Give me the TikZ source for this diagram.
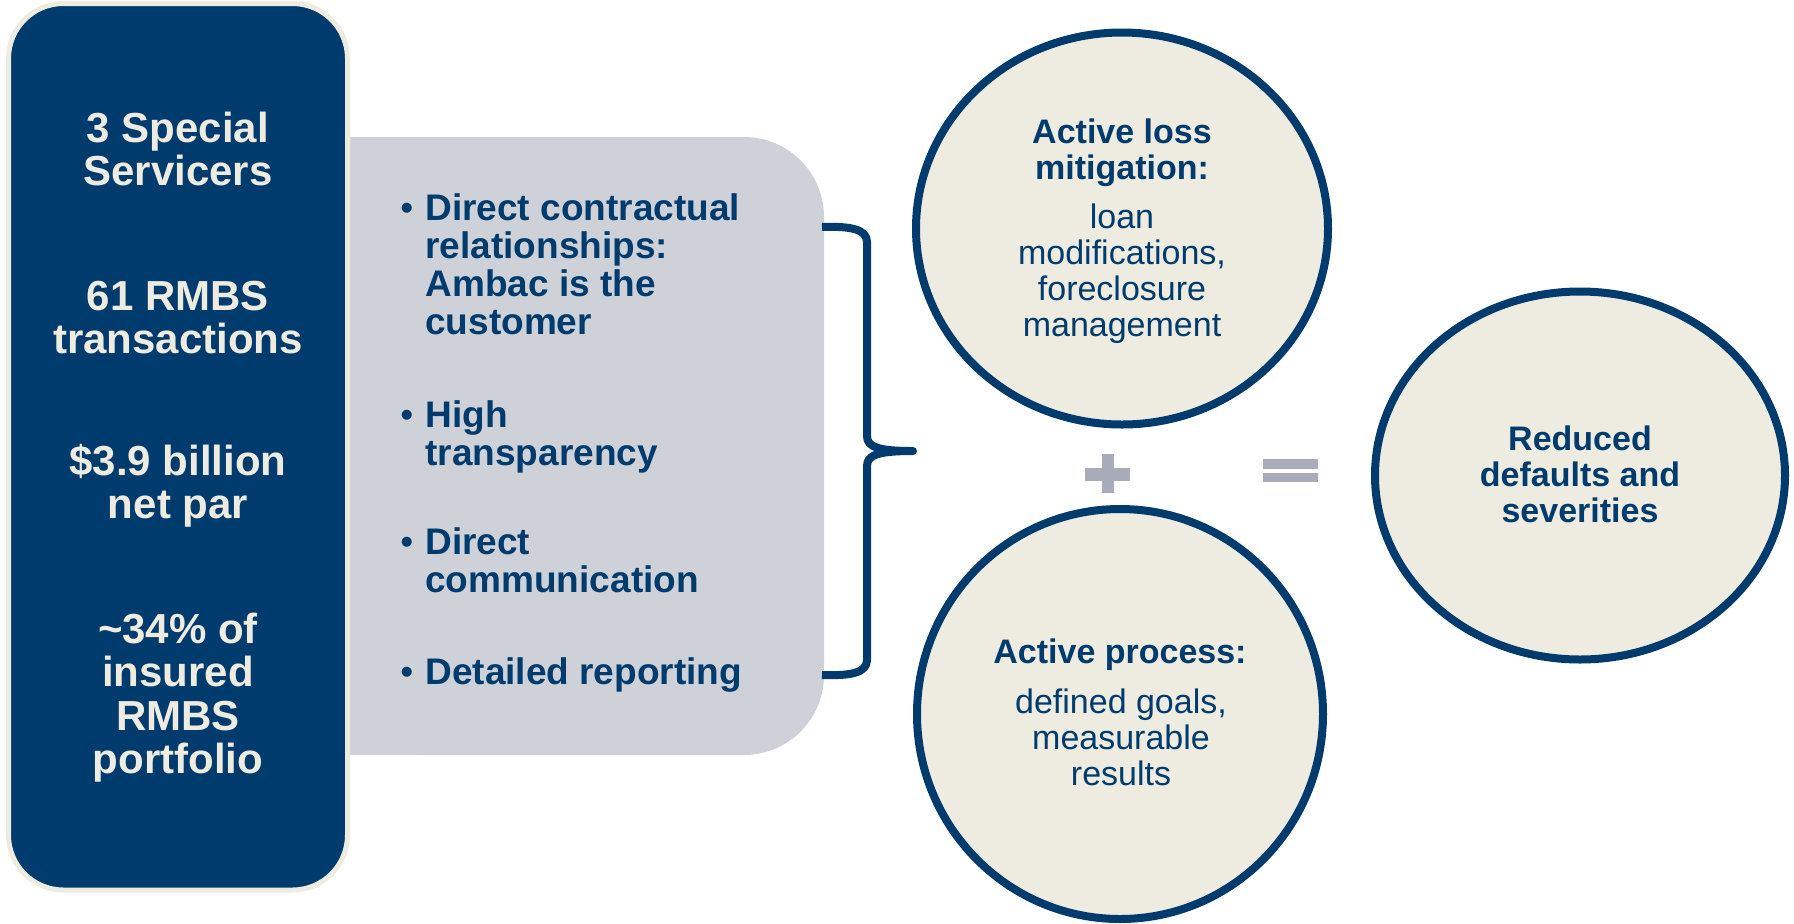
\documentclass[tikz,border=0pt]{standalone}
\usepackage{fontspec}
\setmainfont{Liberation Sans}
\usetikzlibrary{shapes.geometric}
\definecolor{navy}{HTML}{003B6E}
\definecolor{beige}{HTML}{EEEBE0}
\definecolor{panelgrey}{HTML}{CED1D8}
\definecolor{symgrey}{HTML}{A8ACB8}
\newcommand{\cstack}[1]{\begin{tabular}[t]{@{}c@{}}#1\end{tabular}}
\newcommand{\lstack}[1]{\begin{tabular}[t]{@{}l@{}}#1\end{tabular}}
\tikzset{
  lefttxt/.style={inner sep=0pt, anchor=base, text=beige, font=\fontsize{21}{21.75}\selectfont\bfseries},
  bultxt/.style={inner sep=0pt, anchor=base west, text=navy, font=\fontsize{18.5}{19}\selectfont\bfseries},
  bulmark/.style={inner sep=0pt, anchor=base west, text=navy, font=\fontsize{18.5}{19}\selectfont},
  circbold/.style={inner sep=0pt, anchor=base, text=navy, font=\fontsize{17}{18}\selectfont\bfseries},
  circreg/.style={inner sep=0pt, anchor=base, text=navy, font=\fontsize{17}{18}\selectfont},
  bubble/.style={ellipse, draw=navy, fill=beige, line width=4pt, inner sep=0pt},
  bracestroke/.style={draw=navy, line width=4pt, line join=round},
  sym/.style={fill=symgrey},
}
\begin{document}
\begin{tikzpicture}[x=0.5pt,y=-0.5pt]
\useasboundingbox (0,0) rectangle (1794,923);
\fill[white] (0,0) rectangle (1794,923);

% grey panel
\node[fill=panelgrey, rounded corners=40pt, minimum width=242pt, minimum height=309pt, inner sep=0pt] (panel) at (582,446) {};
\fill[panelgrey] (340,137) rectangle (600,755);

% dark left box
\node[draw=beige, fill=navy, line width=2.5pt, rounded corners=27.5pt, minimum width=169.5pt, minimum height=443.25pt, inner sep=0pt] (leftbox) at (178,446.75) {};

% bracket
\coordinate (btop) at (822,227);
\coordinate (bbot) at (822,675);
\coordinate (btip) at (913,451);
\draw[bracestroke] (btop) .. controls (850,226) and (867,229) .. (867,242) -- (867,436)
  .. controls (867,447) and (878,451) .. (btip)
  .. controls (878,451) and (867,455) .. (867,466) -- (867,660)
  .. controls (867,673) and (850,676) .. (bbot);

% circles
\node[bubble, minimum width=206pt, minimum height=196pt] (loss) at (1122,228.5) {};
\node[bubble, minimum width=203pt, minimum height=205pt] (process) at (1120,714) {};
\node[bubble, minimum width=205pt, minimum height=184pt] (result) at (1580,475.5) {};

% plus and equals
\fill[sym] (1085,468) rectangle (1130,481);
\fill[sym] (1102,454) rectangle (1114,493);
\fill[sym] (1263,459) rectangle (1318,469);
\fill[sym] (1263,473) rectangle (1318,482);

% left box texts
\node[lefttxt] (t1) at (178,142) {\cstack{3 Special\\Servicers}};
\node[lefttxt] (t2) at (178,310) {\cstack{61 RMBS\\transactions}};
\node[lefttxt] (t3) at (178,475) {\cstack{\$3.9 billion\\net par}};
\node[lefttxt] (t4) at (178,643) {\cstack{\textasciitilde34\% of\\insured\\RMBS\\portfolio}};

% bullets
\node[bulmark] (m1) at (400,220) {•};
\node[bultxt] (b1) at (425,220) {\lstack{Direct contractual\\relationships:\\Ambac is the\\customer}};
\node[bulmark] (m2) at (400,427) {•};
\node[bultxt] (b2) at (425,427) {\lstack{High\\transparency}};
\node[bulmark] (m3) at (400,554) {•};
\node[bultxt] (b3) at (425,554) {\lstack{Direct\\communication}};
\node[bulmark] (m4) at (400,684) {•};
\node[bultxt] (b4) at (425,684) {\lstack{Detailed reporting}};

% circle texts
\node[circbold] (lossh) at (1122,143) {\cstack{Active loss\\mitigation:}};
\node[circreg] (lossb) at (1122,228) {\cstack{loan\\modifications,\\foreclosure\\management}};
\node[circbold] (proch) at (1120,663) {\cstack{Active process:}};
\node[circreg] (procb) at (1121,713) {\cstack{defined goals,\\measurable\\results}};
\node[circbold] (resh) at (1580,450) {\cstack{Reduced\\defaults and\\severities}};
\end{tikzpicture}
\end{document}
